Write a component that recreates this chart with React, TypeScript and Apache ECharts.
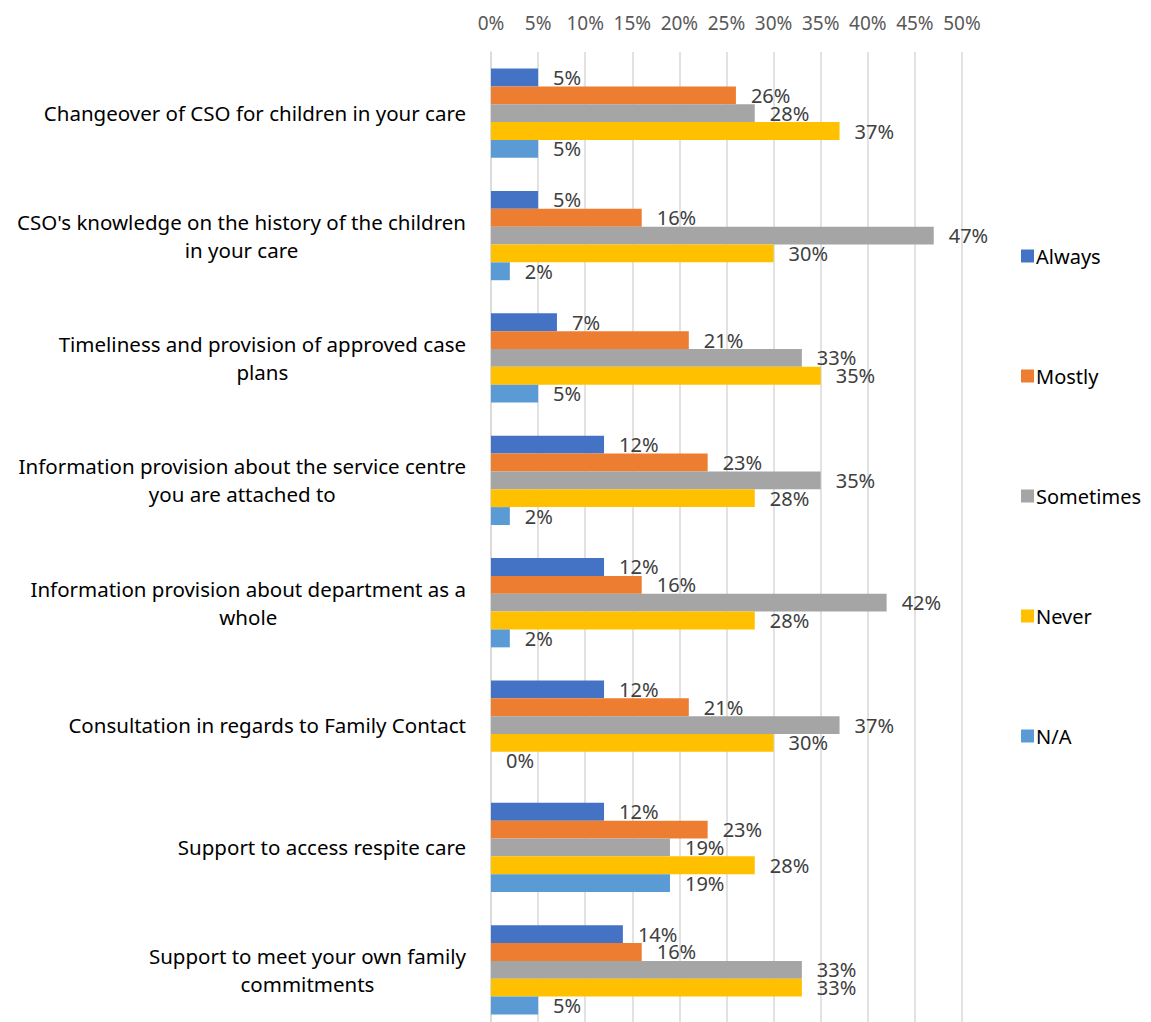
import React, { useEffect, useRef } from "react";
import * as echarts from "echarts";

const categories = [
  "Changeover of CSO for children in your care",
  "CSO's knowledge on the history of the children\nin your care",
  "Timeliness and provision of approved case\nplans",
  "Information provision about the service centre\nyou are attached to",
  "Information provision about department as a\nwhole",
  "Consultation in regards to Family Contact",
  "Support to access respite care",
  "Support to meet your own family\ncommitments",
];

const seriesNames = ["Always", "Mostly", "Sometimes", "Never", "N/A"];
const always = [5, 5, 7, 12, 12, 12, 12, 14];
const mostly = [26, 16, 21, 23, 16, 21, 23, 16];
const sometimes = [28, 47, 33, 35, 42, 37, 19, 33];
const never = [37, 30, 35, 28, 28, 30, 28, 33];
const na = [5, 2, 5, 2, 2, 0, 19, 5];
const xTicks = { min: 0, max: 50, interval: 5 };

const colors = ["#4472C4", "#ED7D31", "#A5A5A5", "#FFC000", "#5B9BD5"];
const FONT = "Noto Sans";

export default function App() {
  const ref = useRef<HTMLDivElement>(null);
  useEffect(() => {
    if (!ref.current) return;
    const chart = echarts.init(ref.current, undefined, { renderer: "svg" });
    const values = [always, mostly, sometimes, never, na];
    chart.setOption({
      animation: false,
      backgroundColor: "#ffffff",
      textStyle: { fontFamily: FONT },
      grid: { left: 491, width: 471, top: 52, height: 979 },
      legend: {
        orient: "vertical",
        left: 1016,
        top: 240,
        itemWidth: 13,
        itemHeight: 13,
        itemGap: 98,
        icon: "rect",
        textStyle: { fontSize: 20, color: "#000000", fontFamily: FONT, lineHeight: 22, padding: [0, 0, 0, -3] },
        data: seriesNames,
      },
      xAxis: {
        type: "value",
        position: "top",
        min: xTicks.min,
        max: xTicks.max,
        interval: xTicks.interval,
        axisLine: { show: false },
        axisTick: { show: false },
        axisLabel: {
          formatter: "{value}%",
          color: "#595959",
          fontSize: 19,
          fontFamily: FONT,
          margin: 20,
        },
        splitLine: { show: true, lineStyle: { color: "#D9D9D9", width: 1.5 } },
      },
      yAxis: {
        type: "category",
        inverse: true,
        data: categories,
        axisLine: { show: true, lineStyle: { color: "#D9D9D9", width: 1.5 } },
        axisTick: { show: false },
        axisLabel: {
          margin: 25,
          color: "#000000",
          fontSize: 20,
          fontFamily: FONT,
          lineHeight: 28,
          formatter: (v: string) =>
            v
              .split("\n")
              .map((l) => "{c|" + l + "}")
              .join("\n"),
          rich: {
            c: { align: "center", fontSize: 20.5, fontFamily: FONT, color: "#000000", lineHeight: 28 },
          },
        },
      },
      series: seriesNames.map((name, i) => ({
        name,
        type: "bar",
        data: values[i],
        barGap: "0%",
        barCategoryGap: "27%",
        itemStyle: { color: colors[i] },
        label: {
          show: true,
          position: "right",
          distance: 15,
          formatter: "{c}%",
          color: "#404040",
          fontSize: 20,
          fontFamily: FONT,
        },
      })),
    });
    return () => chart.dispose();
  }, []);
  return (
    <div style={{ position: "absolute", left: 0, top: 0, width: 1151, height: 1022, overflow: "hidden" }}>
      <div ref={ref} style={{ width: 1151, height: 1040 }} />
    </div>
  );
}
